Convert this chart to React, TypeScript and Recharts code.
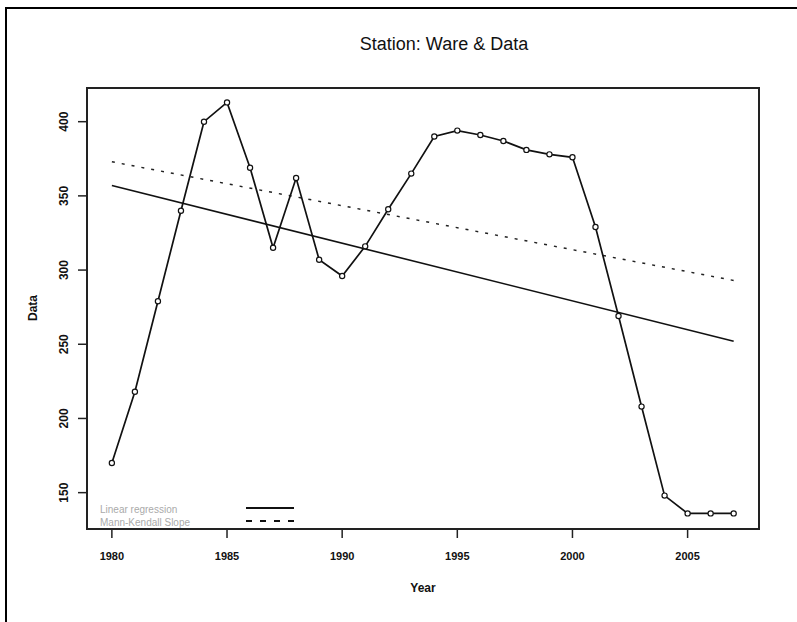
import React from 'react';
import { LineChart, Line, XAxis, YAxis, ReferenceArea, Label } from 'recharts';

const years = [1980, 1981, 1982, 1983, 1984, 1985, 1986, 1987, 1988, 1989, 1990, 1991, 1992, 1993, 1994, 1995, 1996, 1997, 1998, 1999, 2000, 2001, 2002, 2003, 2004, 2005, 2006, 2007];
const dataValues = [170, 218, 279, 340, 400, 413, 369, 315, 362, 307, 296, 316, 341, 365, 390, 394, 391, 387, 381, 378, 376, 329, 269, 208, 148, 136, 136, 136];
const linearRegressionEnds = [357, 252];
const mannKendallEnds = [373, 293];
const xTicks = [1980, 1985, 1990, 1995, 2000, 2005];
const yTicks = [150, 200, 250, 300, 350, 400];
const xDomain = [1978.92, 2008.1];
const yDomain = [125.5, 422.7];
const legendLabels = ['Linear regression', 'Mann-Kendall Slope'];

const last = years.length - 1;
const data = years.map((year, i) => ({
  year,
  value: dataValues[i],
  lr: i === 0 ? linearRegressionEnds[0] : i === last ? linearRegressionEnds[1] : null,
  mk: i === 0 ? mannKendallEnds[0] : i === last ? mannKendallEnds[1] : null,
}));

const tickFont = '"Liberation Sans", Arial, sans-serif';

const YTick = (props: any) => {
  const { y, payload } = props;
  return (
    <text
      transform={`translate(64, ${y}) rotate(-90)`}
      textAnchor="middle"
      dy="0.36em"
      fontFamily={tickFont}
      fontWeight="bold"
      fontSize={12}
      fill="#111"
    >
      {payload.value}
    </text>
  );
};

const XTick = (props: any) => {
  const { x, payload } = props;
  return (
    <text
      x={x}
      y={556}
      textAnchor="middle"
      dy="0.36em"
      fontFamily={tickFont}
      fontWeight="bold"
      fontSize={11}
      fill="#111"
    >
      {payload.value}
    </text>
  );
};

const LegendBox = () => (
  <svg width={220} height={30} style={{ display: 'block' }}>
    <text x={10} y={9} dy="0.35em" fontFamily='"Liberation Sans", Arial, sans-serif' fontSize={10} fill="#aaa">
      {legendLabels[0]}
    </text>
    <line x1={156} x2={204} y1={8} y2={8} stroke="#111" strokeWidth={1.8} />
    <text x={10} y={22} dy="0.35em" fontFamily='"Liberation Sans", Arial, sans-serif' fontSize={10} fill="#aaa">
      {legendLabels[1]}
    </text>
    <line x1={156} x2={204} y1={21} y2={21} stroke="#111" strokeWidth={1.8} strokeDasharray="6 8" />
  </svg>
);

export default function App() {
  return (
    <div style={{ position: 'absolute', left: 0, top: 0, width: 797, height: 622, background: '#fff' }}>
      <div
        style={{
          position: 'absolute',
          left: 5,
          top: 7,
          width: 792,
          height: 615,
          borderTop: '2px solid #000',
          borderLeft: '2px solid #000',
          boxSizing: 'border-box',
        }}
      />
      <div
        style={{
          position: 'absolute',
          left: 294,
          width: 300,
          top: 32,
          textAlign: 'center',
          fontFamily: '"Liberation Sans", Arial, sans-serif',
          fontSize: 18,
          lineHeight: '24px',
          color: '#111',
        }}
      >
        Station: Ware &amp; Data
      </div>
      <div style={{ position: 'absolute', left: 0, top: 0 }}>
        <LineChart width={797} height={622} data={data} margin={{ top: 88, right: 38, bottom: 53, left: 27 }}>
          <XAxis
            dataKey="year"
            type="number"
            domain={xDomain}
            ticks={xTicks}
            allowDataOverflow
            height={40}
            tickSize={9}
            tick={<XTick />}
            axisLine={{ stroke: '#222', strokeWidth: 2 }}
            tickLine={{ stroke: '#222', strokeWidth: 1.5 }}
          >
            <Label
              content={() => (
                <text x={423} y={588} textAnchor="middle" dy="0.36em" fontFamily={tickFont} fontWeight="bold" fontSize={12} fill="#111">
                  Year
                </text>
              )}
            />
          </XAxis>
          <YAxis
            type="number"
            domain={yDomain}
            ticks={yTicks}
            allowDataOverflow
            width={60}
            tickSize={9}
            tick={<YTick />}
            axisLine={{ stroke: '#222', strokeWidth: 2 }}
            tickLine={{ stroke: '#222', strokeWidth: 1.5 }}
          >
            <Label
              content={() => (
                <text transform="translate(33, 308) rotate(-90)" textAnchor="middle" dy="0.36em" fontFamily={tickFont} fontWeight="bold" fontSize={12} fill="#111">
                  Data
                </text>
              )}
            />
          </YAxis>
          <ReferenceArea
            x1={xDomain[0]}
            x2={xDomain[1]}
            y1={yDomain[0]}
            y2={yDomain[1]}
            fill="none"
            fillOpacity={0}
            stroke="#222"
            strokeWidth={2}
            ifOverflow="visible"
          />
          <Line
            dataKey="lr"
            type="linear"
            stroke="#111"
            strokeWidth={1.6}
            dot={false}
            connectNulls
            isAnimationActive={false}
          />
          <Line
            dataKey="mk"
            type="linear"
            stroke="#222"
            strokeWidth={1.5}
            strokeDasharray="3 7"
            dot={false}
            connectNulls
            isAnimationActive={false}
          />
          <Line
            dataKey="value"
            type="linear"
            stroke="#111"
            strokeWidth={1.7}
            dot={{ r: 2.6, stroke: '#111', strokeWidth: 1.2, fill: '#fff' }}
            isAnimationActive={false}
          />
        </LineChart>
      </div>
      <div style={{ position: 'absolute', left: 90, top: 500 }}>
        <LegendBox />
      </div>
    </div>
  );
}
